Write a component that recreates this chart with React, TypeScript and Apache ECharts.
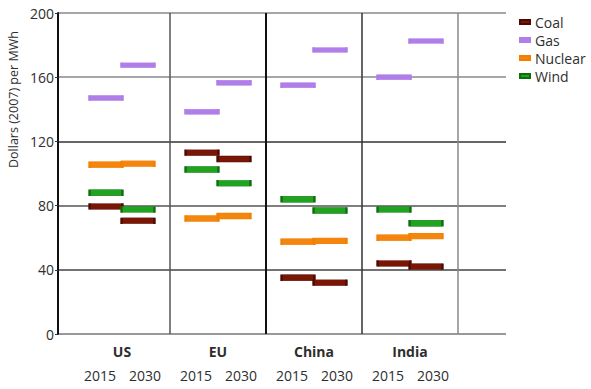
import React, { useEffect, useRef } from "react";
import * as echarts from "echarts";

const regions = ["US", "EU", "China", "India"];
const years = ["2015", "2030"];
// values ordered: US2015, US2030, EU2015, EU2030, China2015, China2030, India2015, India2030
const coal = [79.5, 70.5, 113, 109, 35, 32, 44, 42];
const gas = [147, 167.5, 138.5, 156.5, 155, 177, 160, 182.5];
const nuclear = [105.5, 106, 72, 73.5, 57.5, 58, 60, 61];
const wind = [88, 77.5, 102.5, 94, 84, 77, 77.5, 69];
const yTicks = [0, 40, 80, 120, 160, 200];

const FONT = "Open Sans";
const TXT = "#2e2e2e";

export default function App() {
  const ref = useRef<HTMLDivElement>(null);
  useEffect(() => {
    if (!ref.current) return;
    const chart = echarts.init(ref.current, null, { renderer: "svg" });

    const cats: string[] = [""];
    regions.forEach(() => {
      years.forEach((y) => cats.push(y));
      cats.push("");
    });
    cats.push("");

    const pos = (k: number) => Math.floor(k / 2) * 3 + (k % 2) + 1;
    const toData = (arr: number[]) => arr.map((v, k) => [pos(k), v]);

    const countryAt: Record<number, string> = {};
    regions.forEach((r, i) => (countryAt[2 + i * 3] = r));

    const mk = (name: string, data: number[], color: string, border: string, h: number) => ({
      name,
      type: "scatter",
      xAxisIndex: 0,
      yAxisIndex: 0,
      symbol: "rect",
      symbolSize: [33, h],
      itemStyle: { color, borderColor: border, borderWidth: 1, opacity: 1 },
      data: toData(data),
      z: 5,
    });

    const dividerColors: Record<number, [string, number]> = {
      3: ["#555", 1.5],
      6: ["#111", 2],
      9: ["#333", 1.5],
      12: ["#888", 1.5],
    };

    const series: any[] = [
      mk("Coal", coal, "#7a1606", "#4d0a00", 6),
      mk("Gas", gas, "#b07ee8", "#b07ee8", 5),
      mk("Nuclear", nuclear, "#f4860f", "#f08000", 6),
      mk("Wind", wind, "#20a420", "#0d6e0d", 6),
    ];
    series[0].markLine = {
      silent: true,
      symbol: "none",
      label: { show: false },
      animation: false,
      data: [3, 6, 9, 12].map((i) => ({
        xAxis: i,
        lineStyle: { color: dividerColors[i][0], width: dividerColors[i][1], type: "solid" },
      })),
    };

    chart.setOption({
      animation: false,
      textStyle: { fontFamily: FONT },
      grid: { left: 58, right: 85, top: 13, bottom: 55 },
      legend: {
        orient: "vertical",
        left: 514,
        top: 10,
        itemWidth: 10,
        itemHeight: 4,
        itemGap: 4,
        icon: "rect",
        textStyle: { fontFamily: FONT, fontSize: 14, color: TXT },
        data: ["Coal", "Gas", "Nuclear", "Wind"],
      },
      xAxis: [
        {
          type: "category",
          data: cats,
          boundaryGap: true,
          position: "bottom",
          offset: 24,
          axisLine: { show: false },
          axisTick: { show: false },
          splitLine: { show: false },
          axisLabel: {
            interval: 0,
            margin: 10,
            fontFamily: FONT,
            fontSize: 14,
            color: TXT,
            formatter: (v: string) => (v === "2015" ? "{a|2015}" : v === "2030" ? "{b|2030}" : ""),
            rich: {
              a: { fontFamily: FONT, fontSize: 14, color: TXT, padding: [0, 12, 0, 0] },
              b: { fontFamily: FONT, fontSize: 14, color: TXT, padding: [0, 0, 0, 14] },
            },
          },
        },
        {
          type: "value",
          min: 0,
          max: 14,
          interval: 1,
          position: "bottom",
          axisLine: { show: false },
          axisTick: { show: false },
          splitLine: { show: false },
          axisLabel: {
            margin: 10,
            fontFamily: FONT,
            fontSize: 14,
            fontWeight: "bold",
            color: TXT,
            formatter: (v: number) => countryAt[Math.round(v)] || "",
          },
        },
      ],
      yAxis: {
        type: "value",
        min: 0,
        max: 200,
        interval: 40,
        axisLine: { show: true, lineStyle: { color: "#111", width: 2 } },
        axisTick: { show: true, length: 3, lineStyle: { color: "#333" } },
        axisLabel: {
          margin: 4,
          fontFamily: FONT,
          fontSize: 14,
          color: TXT,
          padding: [10, 0, 0, 0],
          formatter: (v: number) => (yTicks.includes(v) ? String(v) : ""),
        },
        splitLine: {
          show: true,
          lineStyle: { color: ["#777", "#444", "#555", "#333", "#888", "#888"], width: 1.5 },
        },
      },
      graphic: [
        {
          type: "text",
          x: 13,
          y: 168,
          rotation: Math.PI / 2,
          style: {
            text: "Dollars (2007) per MWh",
            fontFamily: FONT,
            fontSize: 12.5,
            fill: TXT,
            textAlign: "left",
            textVerticalAlign: "middle",
          },
        },
      ],
      series,
    });
    return () => chart.dispose();
  }, []);
  return (
    <div
      ref={ref}
      style={{ position: "fixed", left: 0, top: 0, width: 591, height: 389, background: "#fff" }}
    />
  );
}
